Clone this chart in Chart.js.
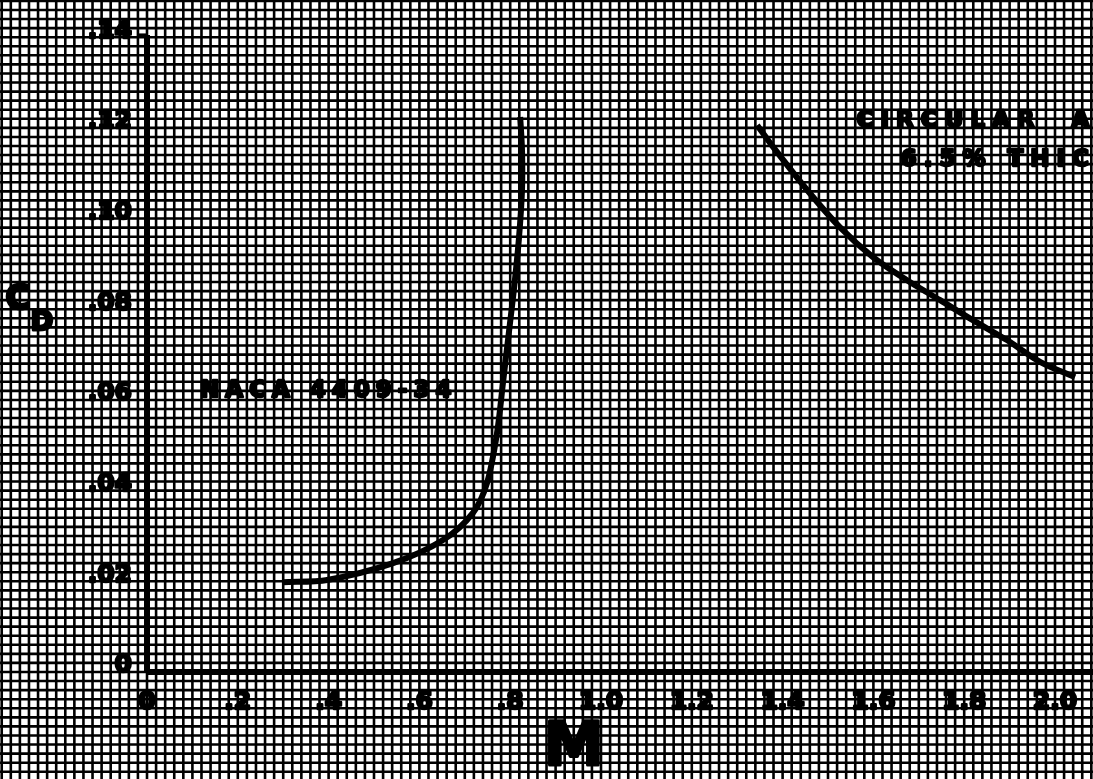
<!DOCTYPE html>
<html>
<head>
<meta charset="utf-8">
<script src="https://cdn.jsdelivr.net/npm/chart.js@4/dist/chart.umd.min.js"></script>
<style>
  html, body { margin: 0; padding: 0; background: #fff; }
  #wrap { width: 1093px; height: 779px; }
</style>
</head>
<body>
<div id="wrap"><canvas id="cdChart" width="1093" height="779"></canvas></div>
<script>
// Drag coefficient vs Mach number
const nacaMach = [0.300, 0.397, 0.542, 0.652, 0.718, 0.749, 0.771, 0.784, 0.797, 0.808, 0.819, 0.826, 0.826, 0.822];
const nacaCd   = [0.0198, 0.0203, 0.0240, 0.0291, 0.0351, 0.0417, 0.0527, 0.0637, 0.0748, 0.0842, 0.0953, 0.1063, 0.1151, 0.1224];

const arcMach = [1.344, 1.379, 1.454, 1.526, 1.599, 1.674, 1.747, 1.819, 1.894, 1.967, 2.044];
const arcCd   = [0.1206, 0.1158, 0.1063, 0.0981, 0.0915, 0.0864, 0.0820, 0.0776, 0.0732, 0.0684, 0.0650];

const xTicks = [0, 0.2, 0.4, 0.6, 0.8, 1.0, 1.2, 1.4, 1.6, 1.8, 2.0];
const xTickLabels = ["0", ".2", ".4", ".6", ".8", "1.0", "1.2", "1.4", "1.6", "1.8", "2.0"];
const yTicks = [0, 0.02, 0.04, 0.06, 0.08, 0.10, 0.12, 0.14];
const yTickLabels = ["0", ".02", ".04", ".06", ".08", ".10", ".12", ".14"];

// graph paper spacing
const gridStepX = 0.02;
const gridStepY = 0.002;

const toPoints = (xs, ys) => xs.map((x, i) => ({ x: x, y: ys[i] }));

// heavy printed text: fill plus a thin outline
function heavyText(ctx, text, x, y, weight) {
    ctx.lineWidth = weight;
    ctx.strokeText(text, x, y);
    ctx.fillText(text, x, y);
}

// graph paper + tick labels + annotations, all placed with the chart scales
const paperPlugin = {
    id: "paper",
    beforeDatasetsDraw(chart) {
        const ctx = chart.ctx;
        const xs = chart.scales.x, ys = chart.scales.y;
        const area = chart.chartArea;
        ctx.save();
        ctx.strokeStyle = "#000";
        ctx.lineWidth = 2.6;
        ctx.beginPath();
        for (let k = Math.ceil(xs.min / gridStepX); k * gridStepX <= xs.max; k++) {
            const px = xs.getPixelForValue(k * gridStepX);
            ctx.moveTo(px, area.top);
            ctx.lineTo(px, area.bottom);
        }
        for (let k = Math.ceil(ys.min / gridStepY); k * gridStepY <= ys.max; k++) {
            const py = ys.getPixelForValue(k * gridStepY);
            ctx.moveTo(area.left, py);
            ctx.lineTo(area.right, py);
        }
        ctx.stroke();
        ctx.restore();
    },
    afterDatasetsDraw(chart) {
        const ctx = chart.ctx;
        const xs = chart.scales.x, ys = chart.scales.y;
        ctx.save();
        ctx.fillStyle = "#000";
        ctx.strokeStyle = "#000";
        ctx.lineJoin = "round";
        ctx.letterSpacing = "0px";
        ctx.font = "bold 25px 'DejaVu Sans'";
        ctx.textBaseline = "middle";

        // x tick labels
        ctx.textAlign = "center";
        xTicks.forEach((v, i) => {
            heavyText(ctx, xTickLabels[i], xs.getPixelForValue(v), ys.getPixelForValue(0) + 31, 2.5);
        });
        // y tick labels
        ctx.textAlign = "right";
        yTicks.forEach((v, i) => {
            heavyText(ctx, yTickLabels[i], xs.getPixelForValue(0) - 15, ys.getPixelForValue(v) - 6, 2.5);
        });

        // small tick at the top of the Cd axis
        ctx.lineWidth = 3;
        ctx.beginPath();
        ctx.moveTo(xs.getPixelForValue(0) - 9, ys.getPixelForValue(0.1405));
        ctx.lineTo(xs.getPixelForValue(0), ys.getPixelForValue(0.1405));
        ctx.stroke();

        // curve labels
        ctx.textAlign = "left";
        ctx.font = "bold 23px 'DejaVu Sans'";
        ctx.letterSpacing = "6px";
        heavyText(ctx, "NACA 4409-34", xs.getPixelForValue(0.117), ys.getPixelForValue(0.0620), 2.5);
        ctx.letterSpacing = "7px";
        heavyText(ctx, "CIRCULAR  ARC", xs.getPixelForValue(1.563), ys.getPixelForValue(0.1215), 2.5);
        heavyText(ctx, "6.5% THICK", xs.getPixelForValue(1.66), ys.getPixelForValue(0.1130), 2.5);
        ctx.letterSpacing = "0px";

        // axis titles
        ctx.textAlign = "center";
        ctx.font = "bold 34px 'DejaVu Sans'";
        heavyText(ctx, "C", 18, 300, 3);
        ctx.font = "bold 27px 'DejaVu Sans'";
        heavyText(ctx, "D", 42, 323, 3);
        ctx.font = "bold 60px 'DejaVu Sans'";
        heavyText(ctx, "M", xs.getPixelForValue(0.94), ys.getPixelForValue(-0.0170), 3);
        ctx.restore();
    }
};

const ctx = document.getElementById("cdChart").getContext("2d");
new Chart(ctx, {
    type: "line",
    data: {
        datasets: [
            {
                label: "NACA 4409-34",
                data: toPoints(nacaMach, nacaCd),
                borderColor: "#000",
                borderWidth: 6,
                pointRadius: 0,
                tension: 0.3,
                fill: false
            },
            {
                label: "Circular arc",
                data: toPoints(arcMach, arcCd),
                borderColor: "#000",
                borderWidth: 6,
                pointRadius: 0,
                tension: 0.3,
                fill: false
            },
            {
                // Cd axis line
                data: [{ x: 0, y: 0 }, { x: 0, y: 0.1405 }],
                borderColor: "#000",
                borderWidth: 6,
                pointRadius: 0
            },
            {
                // Mach axis line
                data: [{ x: 0, y: 0 }, { x: 2.09, y: 0 }],
                borderColor: "#000",
                borderWidth: 6,
                pointRadius: 0
            }
        ]
    },
    options: {
        responsive: false,
        animation: false,
        layout: { padding: 0 },
        scales: {
            x: { type: "linear", display: false, min: -0.3238, max: 2.0837 },
            y: { type: "linear", display: false, min: -0.0236, max: 0.1482 }
        },
        plugins: {
            legend: { display: false },
            tooltip: { enabled: false }
        }
    },
    plugins: [paperPlugin]
});
</script>
</body>
</html>
